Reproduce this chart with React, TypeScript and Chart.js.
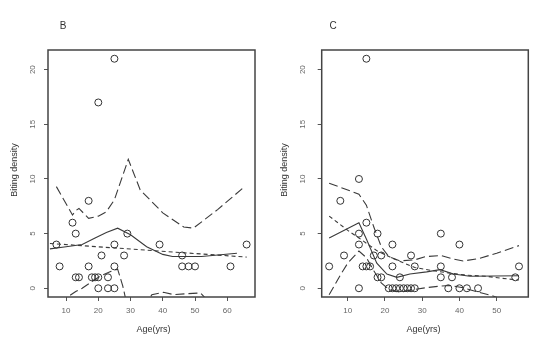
import React, { useEffect, useRef } from "react";
import { Chart, registerables } from "chart.js";

Chart.register(...registerables);

// ---------- Data ----------
const yTicks = [0, 5, 10, 15, 20];
const bXTicks = [10, 20, 30, 40, 50, 60];
const cXTicks = [10, 20, 30, 40, 50];

// Panel B observations
const bAge = [7, 8, 12, 13, 13, 14, 17, 17, 18, 19, 20, 20, 20, 21, 23, 23, 25, 25, 25, 25, 28, 29, 39, 46, 46, 48, 50, 61, 66];
const bDensity = [4, 2, 6, 5, 1, 1, 8, 2, 1, 1, 1, 17, 0, 3, 1, 0, 21, 4, 2, 0, 3, 5, 4, 3, 2, 2, 2, 2, 4];

// Panel B smooth fit (solid)
const bFitAge = [5, 10, 15, 19, 22.5, 26, 30, 35, 40, 43, 52, 63];
const bFit = [3.6, 3.8, 4.0, 4.6, 5.1, 5.5, 4.9, 3.8, 3.1, 2.9, 2.9, 3.2];
// Panel B linear fit (short dash)
const bLinAge = [5, 66];
const bLin = [4.1, 2.85];
// Panel B upper band (long dash)
const bUpAge = [7, 12, 13, 14, 17, 20, 22.5, 25, 29.3, 33, 40, 46.5, 49.5, 57, 65];
const bUp = [9.3, 6.7, 7.1, 7.3, 6.4, 6.6, 7.0, 8.1, 11.8, 9.0, 6.9, 5.6, 5.5, 7.2, 9.2];
// Panel B lower band (long dash)
const bLoAge = [9, 10.5, 13, 15, 17.7, 20.8, 24, 26, 27.6, 28.5, 31, 34, 36.6, 40.2, 43.3, 47.5, 51.7, 52.7, 56];
const bLo = [-1.6, -0.8, -0.3, 0, 0.55, 1.15, 1.55, 1.75, 0.2, -1.0, -2.5, -1.8, -0.6, -0.37, -0.58, -0.5, -0.43, -0.75, -1.8];

// Panel C observations
const cAge = [5, 8, 9, 13, 13, 13, 13, 15, 15, 14, 15, 16, 18, 17, 18, 19, 19, 22, 22, 21, 22, 23, 24, 25, 26, 27, 28, 24, 27, 28, 35, 35, 35, 38, 37, 40, 40, 42, 45, 55, 56];
const cDensity = [2, 8, 3, 10, 5, 4, 0, 21, 6, 2, 2, 2, 5, 3, 1, 1, 3, 4, 2, 0, 0, 0, 0, 0, 0, 0, 0, 1, 3, 2, 5, 2, 1, 1, 0, 4, 0, 0, 0, 1, 2];

// Panel C smooth fit (solid)
const cFitAge = [5, 13, 15, 17.8, 20.5, 23.2, 26.7, 31.2, 34.8, 38.4, 42.8, 56];
const cFit = [4.6, 6.0, 4.5, 2.3, 1.3, 1.0, 1.3, 1.5, 1.7, 1.3, 1.1, 1.15];
// Panel C second fit (short dash)
const cLinAge = [5, 10, 13, 18, 23, 28, 33, 37, 42, 47, 53, 56];
const cLin = [6.6, 5.3, 4.6, 3.4, 2.6, 1.9, 1.6, 1.4, 1.2, 1.1, 0.85, 0.75];
// Panel C upper band (long dash)
const cUpAge = [5, 10, 13, 15, 17, 19, 21, 24, 28, 31, 35, 38, 41, 45, 50, 56];
const cUp = [9.6, 9.0, 8.6, 7.6, 5.6, 3.8, 2.9, 2.5, 2.6, 2.9, 3.0, 2.7, 2.5, 2.7, 3.2, 3.9];
// Panel C lower band (long dash)
const cLoAge = [5, 8, 10, 13, 15, 17, 19, 21, 24, 28, 31, 35, 37.5, 41, 45, 49, 56];
const cLo = [-0.6, 1.2, 2.3, 3.4, 2.8, 1.6, 0.5, -0.1, -0.35, -0.1, 0.05, 0.2, 0.25, 0.05, -0.35, -0.7, -1.6];

// ---------- Helpers ----------
const FONT = '"Liberation Sans", Arial, Helvetica, sans-serif';
const zip = (xs: number[], ys: number[]) => xs.map((x, i) => ({ x, y: ys[i] }));

type PanelProps = {
  letter: string;
  age: number[];
  density: number[];
  fit: [number[], number[]];
  lin: [number[], number[]];
  up: [number[], number[]];
  lo: [number[], number[]];
  xMin: number;
  xMax: number;
  xTicks: number[];
  areaLeft: number;
  areaRight: number;
};

const W = 270;
const H = 354;
const AREA_TOP = 50;
const AREA_BOTTOM = 297;

function Panel(p: PanelProps) {
  const ref = useRef<HTMLCanvasElement | null>(null);

  useEffect(() => {
    if (!ref.current) return;
    const lineColor = "#3a3a3a";
    const overlay = {
      id: "rdecor",
      afterDraw(chart: any) {
        const { ctx, chartArea } = chart;
        const ys = chart.scales.y;
        ctx.save();
        // box
        ctx.strokeStyle = "#444";
        ctx.lineWidth = 1.5;
        ctx.strokeRect(chartArea.left, chartArea.top, chartArea.right - chartArea.left, chartArea.bottom - chartArea.top);
        // rotated y tick labels
        ctx.fillStyle = "#666";
        ctx.font = `8px ${FONT}`;
        ctx.textAlign = "center";
        ctx.textBaseline = "middle";
        ys.ticks.forEach((t: any) => {
          const py = ys.getPixelForValue(t.value);
          ctx.save();
          ctx.translate(33, py);
          ctx.rotate(-Math.PI / 2);
          ctx.fillText(String(t.value), 0, 0);
          ctx.restore();
        });
        // y title
        ctx.fillStyle = "#333";
        ctx.font = `9px ${FONT}`;
        ctx.save();
        ctx.translate(14.5, 170);
        ctx.rotate(-Math.PI / 2);
        ctx.fillText("Biting density", 0, 0);
        ctx.restore();
        // x title
        ctx.fillText("Age(yrs)", 153.5, 330);
        // panel letter
        ctx.font = `10px ${FONT}`;
        ctx.fillText(p.letter, 63, 26);
        ctx.restore();
      },
    };

    const lineDs = (xy: [number[], number[]], dash: number[]) => ({
      data: zip(xy[0], xy[1]),
      showLine: true,
      borderColor: lineColor,
      borderWidth: 1.1,
      borderDash: dash,
      pointRadius: 0,
      pointHoverRadius: 0,
      fill: false,
      tension: 0,
    });

    const chart = new Chart(ref.current, {
      type: "scatter",
      data: {
        datasets: [
          {
            data: zip(p.age, p.density),
            pointStyle: "circle",
            pointRadius: 3.5,
            pointBorderWidth: 1,
            pointBorderColor: "#333",
            pointBackgroundColor: "rgba(0,0,0,0)",
            borderColor: "#333",
            backgroundColor: "rgba(0,0,0,0)",
            showLine: false,
          } as any,
          lineDs(p.fit, []),
          lineDs(p.lin, [4, 3]),
          lineDs(p.up, [9, 4]),
          lineDs(p.lo, [9, 4]),
        ],
      },
      options: {
        responsive: false,
        animation: false,
        events: [],
        layout: { padding: { top: AREA_TOP, right: W - p.areaRight, left: 0, bottom: 0 } },
        plugins: { legend: { display: false }, title: { display: false }, tooltip: { enabled: false } },
        scales: {
          x: {
            type: "linear",
            min: p.xMin,
            max: p.xMax,
            afterBuildTicks: (s: any) => {
              s.ticks = p.xTicks.map((v) => ({ value: v }));
            },
            afterFit: (s: any) => {
              s.height = H - AREA_BOTTOM;
            },
            grid: { display: true, drawOnChartArea: false, drawTicks: true, tickLength: 4, color: "#555", lineWidth: 1 },
            border: { display: false },
            ticks: { color: "#666", font: { family: FONT, size: 8 }, padding: 5, maxRotation: 0, autoSkip: false },
          },
          y: {
            type: "linear",
            min: -0.8,
            max: 21.8,
            afterBuildTicks: (s: any) => {
              s.ticks = yTicks.map((v) => ({ value: v }));
            },
            afterFit: (s: any) => {
              s.width = p.areaLeft;
            },
            grid: { display: true, drawOnChartArea: false, drawTicks: true, tickLength: 4, color: "#555", lineWidth: 1 },
            border: { display: false },
            ticks: { display: false },
          },
        },
      } as any,
      plugins: [overlay],
    });
    return () => chart.destroy();
  }, []);

  return <canvas ref={ref} width={W} height={H} style={{ display: "block", width: W, height: H }} />;
}

export default function App() {
  return (
    <div style={{ position: "absolute", left: 0, top: 0, width: 540, height: 354, display: "flex", background: "#fff" }}>
      <Panel
        letter="B"
        age={bAge}
        density={bDensity}
        fit={[bFitAge, bFit]}
        lin={[bLinAge, bLin]}
        up={[bUpAge, bUp]}
        lo={[bLoAge, bLo]}
        xMin={4.4}
        xMax={68.6}
        xTicks={bXTicks}
        areaLeft={48}
        areaRight={255}
      />
      <Panel
        letter="C"
        age={cAge}
        density={cDensity}
        fit={[cFitAge, cFit]}
        lin={[cLinAge, cLin]}
        up={[cUpAge, cUp]}
        lo={[cLoAge, cLo]}
        xMin={3.0}
        xMax={58.5}
        xTicks={cXTicks}
        areaLeft={51.7}
        areaRight={258.3}
      />
    </div>
  );
}
